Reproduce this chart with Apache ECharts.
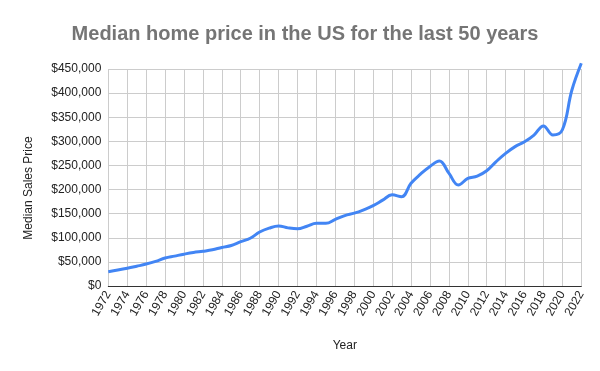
<!DOCTYPE html>
<html>
<head>
<meta charset="utf-8">
<script src="https://cdn.jsdelivr.net/npm/echarts@6/dist/echarts.min.js"></script>
<style>html,body{margin:0;padding:0;background:#fff}#c{width:600px;height:371px}</style>
</head>
<body>
<div id="c"></div>
<script>
var years = [];
for (var y = 1972; y <= 2022; y++) years.push(String(y));
var medianPrice = [
  29700, 33000, 36700, 41000, 45500, 51000, 58000, 62000, 66000, 69500,
  72000, 75000, 80000, 84000, 92000, 99000, 112000, 120000, 124500, 120500,
  118500, 124000, 130000, 130000, 138000, 146000, 151000, 158000, 166500, 178000,
  189000, 185000, 213000, 232000, 248000, 259000, 234000, 209500, 223000, 228000,
  239000, 258000, 275000, 289000, 299000, 313000, 332000, 313000, 324000, 406000,
  462000
];
var yTicks = [0, 50000, 100000, 150000, 200000, 250000, 300000, 350000, 400000, 450000];

var chart = echarts.init(document.getElementById('c'), null, {renderer: 'canvas'});
var font = '"Liberation Sans", Arial, sans-serif';
chart.setOption({
  animation: false,
  title: {
    text: 'Median home price in the US for the last 50 years',
    left: 300, top: 19, textAlign: 'center',
    textStyle: {fontFamily: font, fontSize: 20, fontWeight: 'bold', color: '#757575'}
  },
  grid: {left: 108.3, right: 18.7, top: 69, bottom: 85, containLabel: false},
  xAxis: {
    type: 'category', data: years, boundaryGap: false,
    name: 'Year', nameLocation: 'middle', nameGap: 54,
    nameTextStyle: {fontFamily: font, fontSize: 12, color: '#222'},
    axisLine: {lineStyle: {color: '#333', width: 1}},
    axisTick: {show: false},
    axisLabel: {interval: 1, rotate: 60, fontFamily: font, fontSize: 12, color: '#222', margin: 6},
    splitLine: {show: true, interval: 1, lineStyle: {color: '#cccccc', width: 1}}
  },
  yAxis: {
    type: 'value', min: yTicks[0], max: yTicks[yTicks.length - 1], interval: 50000,
    name: 'Median Sales Price', nameLocation: 'middle', nameGap: 74,
    nameTextStyle: {fontFamily: font, fontSize: 12, color: '#222', padding: [0, 0, 0, -21]},
    axisLine: {show: false}, axisTick: {show: false},
    axisLabel: {
      fontFamily: font, fontSize: 12, color: '#222', margin: 7,
      formatter: function (v) { return '$' + v.toLocaleString('en-US'); }
    },
    splitLine: {lineStyle: {color: '#cccccc', width: 1}}
  },
  series: [{
    type: 'line', data: medianPrice, smooth: 0.4, showSymbol: false, clip: false,
    lineStyle: {color: '#4285F4', width: 3}, itemStyle: {color: '#4285F4'}
  }]
});
</script>
</body>
</html>
